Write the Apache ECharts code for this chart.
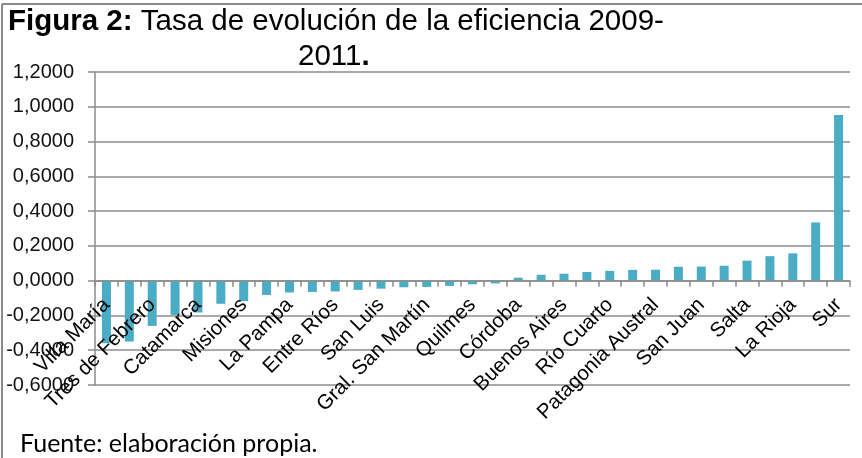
<!DOCTYPE html>
<html>
<head>
<meta charset="utf-8">
<title>Tasa de evolución de la eficiencia 2009-2011</title>
<script src="https://cdn.jsdelivr.net/npm/echarts@6/dist/echarts.min.js"></script>
<style>
  html, body { margin: 0; padding: 0; background: #fff; }
  #chart { width: 862px; height: 458px; }
</style>
</head>
<body>
<div id="chart"></div>
<script>
// Universities ordered by efficiency change; only every other one carries a label
const categories = [
  'Villa María', '', 'Tres de Febrero', '', 'Catamarca', '', 'Misiones', '',
  'La Pampa', '', 'Entre Ríos', '', 'San Luis', '', 'Gral. San Martín', '',
  'Quilmes', '', 'Córdoba', '', 'Buenos Aires', '', 'Río Cuarto', '',
  'Patagonia Austral', '', 'San Juan', '', 'Salta', '', 'La Rioja', '', 'Sur'
];

// Rate of change of efficiency, 2009-2011
const tasa = [
  -0.360, -0.350, -0.260, -0.197, -0.183, -0.133, -0.118, -0.082,
  -0.068, -0.065, -0.062, -0.053, -0.046, -0.038, -0.036, -0.030,
  -0.021, -0.016, 0.017, 0.034, 0.040, 0.050, 0.056, 0.062,
  0.063, 0.080, 0.081, 0.086, 0.115, 0.141, 0.157, 0.335, 0.953
];

const yTicks = { min: -0.6, max: 1.2, step: 0.2 };

const fmt = v => (Math.abs(v) < 1e-9 ? 0 : v).toFixed(4).replace('.', ',');

const chart = echarts.init(document.getElementById('chart'), null, { renderer: 'canvas' });

const sans = '"Liberation Sans", Arial, sans-serif';
const gridGrey = '#8c8c8c';

chart.setOption({
  animation: false,
  backgroundColor: '#fff',
  title: [
    {
      text: '{b|Figura 2:} Tasa de evolución de la eficiencia 2009-',
      left: 8, top: 7, padding: 0,
      textStyle: {
        fontFamily: sans, fontSize: 29.5, fontWeight: 'normal', color: '#000',
        rich: { b: { fontFamily: sans, fontSize: 29.5, fontWeight: 'bold', color: '#000' } }
      }
    },
    {
      text: '2011{b|.}',
      left: 298, top: 42, padding: 0,
      textStyle: {
        fontFamily: sans, fontSize: 29.5, fontWeight: 'normal', color: '#000',
        rich: { b: { fontFamily: sans, fontSize: 29.5, fontWeight: 'bold', color: '#000' } }
      }
    }
  ],
  graphic: [
    // outer frame (top and left edges)
    { type: 'line', shape: { x1: 2, y1: 4, x2: 862, y2: 4 }, style: { stroke: '#8a8a8a', lineWidth: 2 } },
    { type: 'line', shape: { x1: 2, y1: 4, x2: 2, y2: 458 }, style: { stroke: '#8a8a8a', lineWidth: 2 } },
    {
      type: 'text', left: 20, top: 431,
      style: { text: 'Fuente: elaboración propia.', font: '25px Lato, "Open Sans", sans-serif', fill: '#000' }
    }
  ],
  grid: { left: 95, right: 12, top: 72, bottom: 73, outerBoundsMode: 'none', containLabel: false },
  xAxis: {
    type: 'category',
    data: categories,
    position: 'bottom',
    offset: 0,
    z: 5,
    axisLine: { onZero: false, lineStyle: { color: gridGrey, width: 1.5 } },
    axisTick: { show: true, interval: 0, length: 6, lineStyle: { color: gridGrey, width: 1.5 } },
    axisLabel: {
      interval: 0, rotate: 45, margin: 21, hideOverlap: false,
      fontFamily: sans, fontSize: 20.5, color: '#000'
    }
  },
  yAxis: {
    type: 'value',
    min: yTicks.min, max: yTicks.max, interval: yTicks.step,
    axisLine: { show: true, lineStyle: { color: gridGrey, width: 1.5 } },
    axisTick: { show: true, length: 7, lineStyle: { color: gridGrey, width: 1.5 } },
    axisLabel: { formatter: fmt, margin: 21, fontFamily: sans, fontSize: 20, color: '#111' },
    splitLine: { show: true, lineStyle: { color: gridGrey, width: 1.5 } }
  },
  series: [{
    type: 'bar',
    data: tasa,
    barWidth: 9,
    z: 2,
    itemStyle: { color: '#4bacc6' }
  }]
});

// Lift the category axis (line, ticks and labels) up to the zero line
const zeroY = chart.convertToPixel({ yAxisIndex: 0 }, 0);
const baseY = chart.convertToPixel({ yAxisIndex: 0 }, yTicks.min);
chart.setOption({ xAxis: { offset: -(baseY - zeroY) } });
</script>
</body>
</html>
